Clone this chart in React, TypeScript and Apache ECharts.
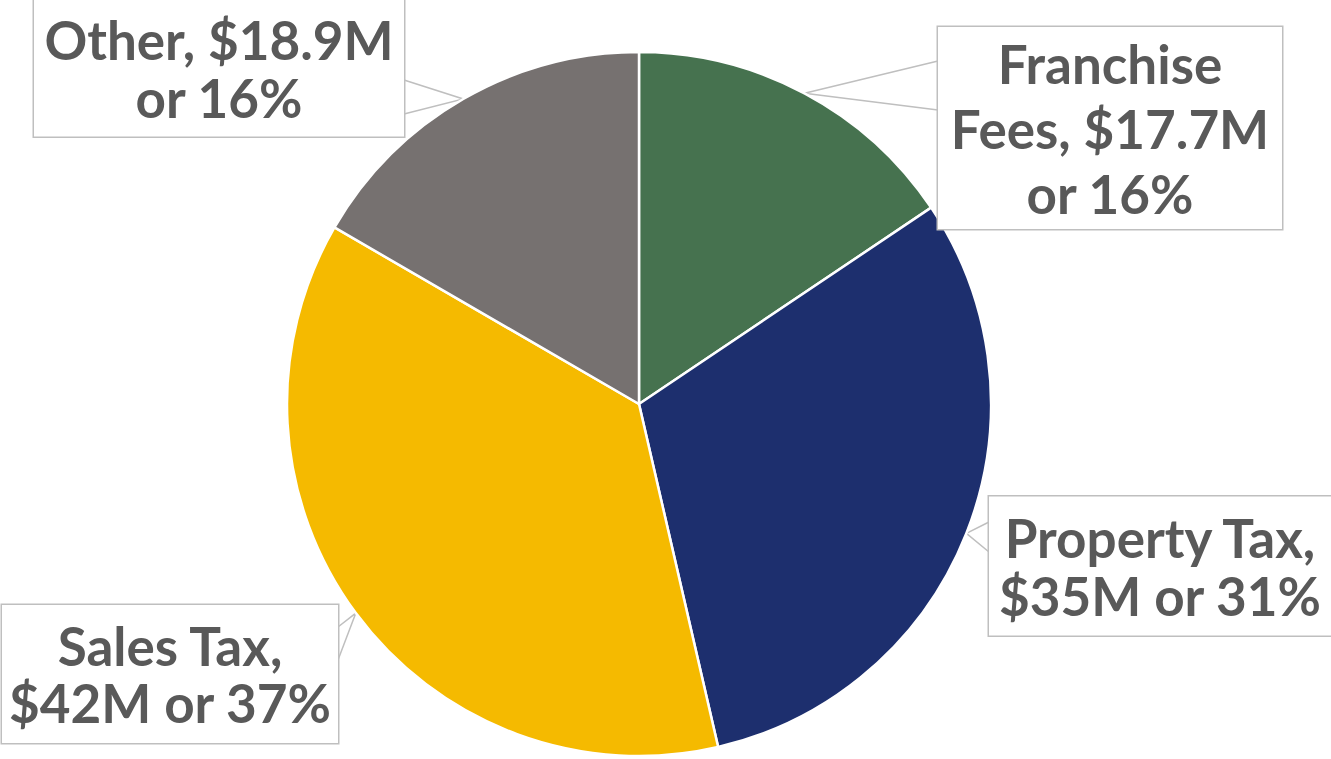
import React, { useEffect, useRef } from "react";
import * as echarts from "echarts";

const categories = ["Franchise Fees", "Property Tax", "Sales Tax", "Other"];
const values = [17.7, 35, 42, 18.9];
const labelTexts = [
  "Franchise\nFees, $17.7M\nor 16%",
  "Property Tax,\n$35M or 31%",
  "Sales Tax,\n$42M or 37%",
  "Other, $18.9M\nor 16%",
];
const colors = ["#46724F", "#1D2F6E", "#F5BA00", "#767170"];

// label box layout (center x, center y, width, height, lineHeight, pointer side and attach y range)
const boxes = [
  { cx: 1110, cy: 128, w: 344, h: 202, lh: 65, side: "left", y1: 61, y2: 110 },
  { cx: 1160, cy: 566, w: 342, h: 139, lh: 58, side: "left", y1: 522, y2: 552 },
  { cx: 170, cy: 674, w: 336, h: 138, lh: 57, side: "right", y1: 627, y2: 660 },
  { cx: 219, cy: 68, w: 370, h: 137, lh: 58, side: "right", y1: 80, y2: 114 },
];

export default function App() {
  const ref = useRef<HTMLDivElement>(null);
  useEffect(() => {
    if (!ref.current) return;
    const chart = echarts.init(ref.current, undefined, { renderer: "svg" });
    const data = categories.map((name, i) => {
      const b = boxes[i];
      const lines = labelTexts[i].split("\n").length;
      const pv = Math.max(0, (b.h - lines * b.lh) / 2);
      return {
        name,
        value: values[i],
        itemStyle: { color: colors[i] },
        label: {
          lineHeight: b.lh,
          width: b.w - 10,
          padding: [pv, 5, pv, 5],
        },
      };
    });
    chart.setOption({
      animation: false,
      series: [
        {
          type: "pie",
          center: [639, 404],
          radius: 352,
          startAngle: 90,
          clockwise: true,
          data,
          itemStyle: { borderColor: "#FFFFFF", borderWidth: 2.5 },
          label: {
            show: true,
            formatter: (p: any) => labelTexts[p.dataIndex],
            fontFamily: "Lato",
            fontWeight: "bold",
            fontSize: 53,
            color: "#595959",
            backgroundColor: "#FFFFFF",
            borderColor: "#BFBFBF",
            borderWidth: 1.5,
            align: "center",
          },
          labelLine: {
            show: true,
            length: 10,
            length2: 10,
            lineStyle: { color: "#BFBFBF", width: 1.5 },
          },
          labelLayout: (params: any) => {
            const b = boxes[params.dataIndex];
            const out: any = {
              x: b.cx,
              y: b.cy,
              align: "center",
              verticalAlign: "middle",
            };
            const pts = params.labelLinePoints;
            if (pts && pts.length) {
              const tip = pts[0];
              const ex = b.side === "left" ? b.cx - b.w / 2 : b.cx + b.w / 2;
              out.labelLinePoints = [
                [ex, b.y1],
                [tip[0], tip[1]],
                [ex, b.y2],
              ];
            }
            return out;
          },
        },
      ],
    });
    return () => chart.dispose();
  }, []);
  return (
    <div
      ref={ref}
      style={{ position: "absolute", left: 0, top: 0, width: 1331, height: 759, background: "#fff" }}
    />
  );
}
